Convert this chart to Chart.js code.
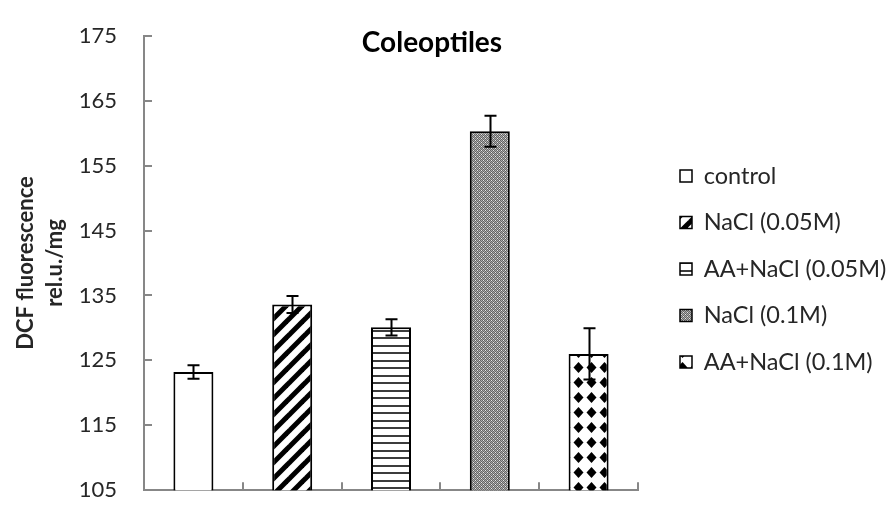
<!DOCTYPE html>
<html>
<head>
<meta charset="utf-8">
<script src="https://cdn.jsdelivr.net/npm/chart.js@4/dist/chart.umd.min.js"></script>
<style>
  html, body { margin: 0; padding: 0; background: #ffffff; }
  #wrap { width: 891px; height: 526px; }
</style>
</head>
<body>
<div id="wrap"><canvas id="chart" width="891" height="526"></canvas></div>
<script>
// Treatments, mean fluorescence and error (±) per treatment
const categories = ['control', 'NaCl (0.05M)', 'AA+NaCl (0.05M)', 'NaCl (0.1M)', 'AA+NaCl (0.1M)'];
const meanValues = [123.2, 133.6, 130.1, 160.3, 126.0];
const errorValues = [1.05, 1.3, 1.25, 2.4, 3.95];
const yMin = 105;
const yMax = 175;
const yStep = 10;
const chartTitle = 'Coleoptiles';
const yAxisTitle = ['DCF fluorescence', 'rel.u./mg'];

const FONT = 'Lato, "Liberation Sans", sans-serif';
const AXIS_GREY = '#878787';
const TEXT = '#262626';

// Fill patterns for the bars
function makePattern(w, h, paint) {
  const c = document.createElement('canvas');
  c.width = w; c.height = h;
  const g = c.getContext('2d');
  g.fillStyle = '#ffffff';
  g.fillRect(0, 0, w, h);
  paint(g, w, h);
  return c.getContext('2d').createPattern(c, 'repeat');
}

const plainFill = '#ffffff';

const diagonalFill = makePattern(16, 16, (g) => {
  g.strokeStyle = '#000000';
  g.lineWidth = 5;
  for (const c of [0, 16, 32]) {
    g.beginPath();
    g.moveTo(c - 20, 20);
    g.lineTo(c + 4, -4);
    g.stroke();
  }
});

const horizontalFill = makePattern(4, 15, (g) => {
  g.fillStyle = '#3c3c3c';
  g.fillRect(0, 0, 4, 2);
  g.fillRect(0, 7, 4, 2);
});

const fineCheckFill = makePattern(4, 4, (g) => {
  for (let y = 0; y < 4; y++) {
    for (let x = 0; x < 4; x++) {
      g.fillStyle = ((x + y) % 2 === 0) ? '#646464' : '#ababab';
      g.fillRect(x, y, 1, 1);
    }
  }
  g.fillStyle = '#e6e6e6';
  g.fillRect(1, 2, 1, 1);
  g.fillRect(3, 0, 1, 1);
});

const diamondFill = makePattern(13, 15, (g) => {
  g.fillStyle = '#000000';
  g.beginPath();
  g.moveTo(6.5, 2);
  g.lineTo(11.5, 7.5);
  g.lineTo(6.5, 13);
  g.lineTo(1.5, 7.5);
  g.closePath();
  g.fill();
});

const barFills = [plainFill, diagonalFill, horizontalFill, fineCheckFill, diamondFill];

// Error bars drawn from the mean ± error values through the y scale
const errorBarPlugin = {
  id: 'errorBars',
  afterDatasetsDraw(chart) {
    const ctx = chart.ctx;
    const yScale = chart.scales.y;
    const meta = chart.getDatasetMeta(0);
    ctx.save();
    ctx.strokeStyle = '#000000';
    ctx.lineWidth = 2;
    meta.data.forEach((bar, i) => {
      const x = Math.round(bar.x) + 0.5;
      const top = yScale.getPixelForValue(meanValues[i] + errorValues[i]);
      const bottom = yScale.getPixelForValue(meanValues[i] - errorValues[i]);
      ctx.beginPath();
      ctx.moveTo(x, top); ctx.lineTo(x, bottom);
      ctx.moveTo(x - 6, top); ctx.lineTo(x + 6, top);
      ctx.moveTo(x - 6, bottom); ctx.lineTo(x + 6, bottom);
      ctx.stroke();
    });
    ctx.restore();
  }
};

// Tick marks pointing into the plot area
const innerTicksPlugin = {
  id: 'innerTicks',
  afterDraw(chart) {
    const ctx = chart.ctx;
    const { left, bottom } = chart.chartArea;
    const yScale = chart.scales.y;
    const xScale = chart.scales.x;
    ctx.save();
    ctx.strokeStyle = AXIS_GREY;
    ctx.lineWidth = 2;
    ctx.beginPath();
    yScale.ticks.forEach((t) => {
      const y = Math.round(yScale.getPixelForValue(t.value));
      ctx.moveTo(left, y); ctx.lineTo(left + 8, y);
    });
    for (let i = 0; i <= categories.length; i++) {
      const x = Math.round(xScale.getPixelForValue(i - 0.5));
      ctx.moveTo(x, bottom); ctx.lineTo(x, bottom - 8);
    }
    ctx.stroke();
    ctx.restore();
  }
};

// Chart heading placed inside the plot
const headingPlugin = {
  id: 'heading',
  afterDraw(chart, args, opts) {
    const ctx = chart.ctx;
    ctx.save();
    ctx.font = 'bold 28px ' + FONT;
    ctx.fillStyle = '#000000';
    ctx.textAlign = 'center';
    ctx.textBaseline = 'alphabetic';
    ctx.fillText(opts.text, opts.x, opts.y);
    ctx.restore();
  }
};

new Chart(document.getElementById('chart'), {
  type: 'bar',
  data: {
    labels: categories,
    datasets: [{
      data: meanValues,
      backgroundColor: barFills,
      borderColor: '#000000',
      borderWidth: 2,
      borderSkipped: false,
      categoryPercentage: 1,
      barPercentage: 0.405
    }]
  },
  options: {
    responsive: false,
    devicePixelRatio: 1,
    animation: false,
    events: [],
    layout: { padding: { top: 21, bottom: 9, left: 0, right: 2 } },
    scales: {
      x: {
        type: 'category',
        offset: true,
        grid: { display: false, drawTicks: false },
        border: { display: true, color: AXIS_GREY, width: 2 },
        ticks: { display: false },
        afterFit(s) { s.height = 0; }
      },
      y: {
        type: 'linear',
        min: yMin,
        max: yMax,
        grid: { display: false, drawTicks: false },
        border: { display: true, color: AXIS_GREY, width: 2 },
        ticks: {
          stepSize: yStep,
          padding: 27,
          color: TEXT,
          font: { family: FONT, size: 22, lineHeight: 0.8 }
        },
        title: {
          display: true,
          text: yAxisTitle,
          color: TEXT,
          font: { family: FONT, size: 22, weight: 'bold', lineHeight: 1.3 },
          padding: { top: 12, bottom: 0 }
        },
        afterFit(s) { s.width = 144; }
      },
      gap: {
        type: 'linear',
        position: 'right',
        display: true,
        grid: { display: false, drawTicks: false },
        border: { display: false },
        ticks: { display: false },
        afterFit(s) { s.width = 19; }
      }
    },
    plugins: {
      title: { display: false },
      tooltip: { enabled: false },
      heading: { text: chartTitle, x: 432, y: 52 },
      legend: {
        display: true,
        position: 'right',
        align: 'center',
        maxWidth: 232,
        labels: {
          boxWidth: 12,
          boxHeight: 12,
          padding: 23,
          color: TEXT,
          font: { family: FONT, size: 23.5 },
          generateLabels(chart) {
            const ds = chart.data.datasets[0];
            return chart.data.labels.map((text, i) => ({
              text,
              fillStyle: ds.backgroundColor[i],
              strokeStyle: '#000000',
              lineWidth: 1.5,
              hidden: false,
              index: i,
              datasetIndex: 0,
              fontColor: TEXT
            }));
          }
        }
      }
    }
  },
  plugins: [errorBarPlugin, innerTicksPlugin, headingPlugin]
});
</script>
</body>
</html>
